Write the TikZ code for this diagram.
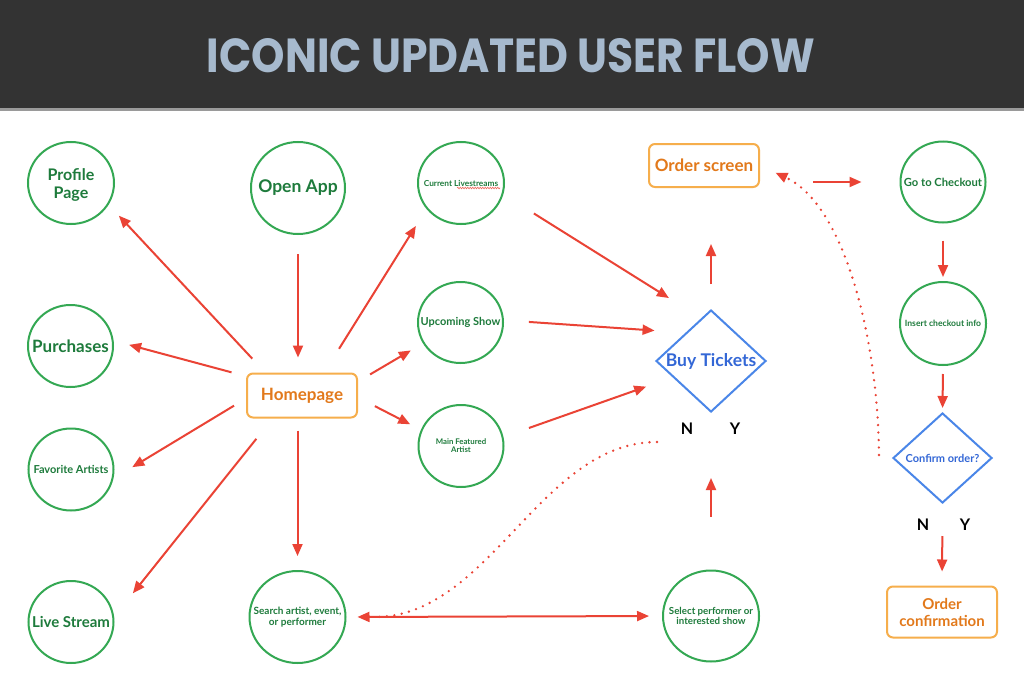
\documentclass[tikz,border=0pt]{standalone}
\usepackage{graphicx}
\usepackage{fontspec}
\setmainfont{Lato}
\newfontfamily\titlefont{Poppins}
\usetikzlibrary{shapes.geometric,arrows.meta,decorations.pathmorphing}
\definecolor{band}{HTML}{333333}
\definecolor{bandline}{HTML}{9A9A9A}
\definecolor{titlecol}{HTML}{A7BACE}
\definecolor{cgreen}{HTML}{34A853}
\definecolor{tgreen}{HTML}{1E7B3C}
\definecolor{corange}{HTML}{F6AE4C}
\definecolor{torange}{HTML}{E2791B}
\definecolor{cblue}{HTML}{4A86E8}
\definecolor{tblue}{HTML}{3367D6}
\definecolor{cred}{HTML}{EA4335}
\tikzset{
  fs/.style 2 args={font=\bfseries\fontsize{#1}{#2}\selectfont},
  circ/.style={ellipse, draw=cgreen, line width=2pt, inner sep=0pt},
  glab/.style={text=tgreen, align=center},
  obox/.style={rectangle, rounded corners=6pt, draw=corange, line width=2pt, text=torange, align=center, inner sep=0pt},
  dec/.style={diamond, draw=cblue, line width=2pt, inner sep=0pt},
  blab/.style={text=tblue, align=center},
  yn/.style={fs={16}{18}, text=black, inner sep=0pt},
  arr/.style={draw=cred, line width=2pt, -{Triangle[length=12pt,width=10pt]}},
  darr/.style={draw=cred, line width=2pt, {Triangle[length=12pt,width=10pt]}-{Triangle[length=12pt,width=10pt]}},
  dots/.style={draw=cred, line width=2.6pt, line cap=round, dash pattern=on 0pt off 7.5pt},
  squig/.style={draw=cred!80, line width=0.6pt, decorate, decoration={snake, amplitude=0.8pt, segment length=2.5pt}},
}
\begin{document}
\begin{tikzpicture}[x=1pt, y=-1pt]
\useasboundingbox (0,0) rectangle (1024,690);
\fill[white] (0,0) rectangle (1024,690);
% title band
\fill[band] (0,0) rectangle (1024,110);
\fill[bandline] (0,108) rectangle (1024,111);
\node[text=titlecol] (title) at (511,55.5) {\titlefont\bfseries\resizebox{608pt}{34pt}{ICONIC UPDATED USER FLOW}};

% nodes
\node[circ, minimum width=86pt, minimum height=82pt, label={[glab, fs={16}{18.5}, yshift=-2pt]center:Profile\\Page}] (profile) at (71,183) {};
\node[circ, minimum width=94pt, minimum height=92pt, label={[glab, fs={17.5}{20}]center:Open App}] (openapp) at (298,188) {};
\node[circ, minimum width=86pt, minimum height=82pt, label={[glab, fs={8.3}{10}]center:Current Livestreams}] (curlive) at (461,183) {};
\node[obox, minimum width=110pt, minimum height=43pt, fs={17}{19}] (order) at (704,165.5) {Order screen};
\node[circ, minimum width=85pt, minimum height=81pt, label={[glab, fs={11.2}{13}]center:Go to Checkout}] (checkout) at (943,182) {};
\node[circ, minimum width=85pt, minimum height=82pt, label={[glab, fs={17}{19}]center:Purchases}] (purch) at (70.5,346) {};
\node[obox, minimum width=110pt, minimum height=44pt, fs={17}{19}] (home) at (302,395.5) {Homepage};
\node[circ, minimum width=85pt, minimum height=81pt, label={[glab, fs={11}{13}]center:Upcoming Show}] (upcoming) at (460.5,322.5) {};
\node[dec, minimum width=110pt, minimum height=102pt, label={[blab, fs={17.5}{20}]center:Buy Tickets}] (buy) at (711,361) {};
\node[circ, minimum width=86pt, minimum height=83pt, label={[glab, fs={8.6}{10}]center:Insert checkout info}] (insert) at (943,323.5) {};
\node[circ, minimum width=85pt, minimum height=82pt, label={[glab, fs={7.8}{7.8}]center:Main Featured\\Artist}] (mainfeat) at (461,446) {};
\node[dec, minimum width=99pt, minimum height=90pt, label={[blab, fs={11}{13}]center:Confirm order?}] (confirm) at (942.5,458) {};
\node[circ, minimum width=85pt, minimum height=82pt, label={[glab, fs={11}{13}]center:Favorite Artists}] (fav) at (71,469.5) {};
\node[circ, minimum width=85pt, minimum height=82pt, label={[glab, fs={15}{17}]center:Live Stream}] (live) at (71,622) {};
\node[circ, minimum width=96pt, minimum height=92pt, label={[glab, fs={10}{10.5}]center:{Search artist, event,\\or performer}}] (search) at (297.5,617) {};
\node[circ, minimum width=96pt, minimum height=91pt, label={[glab, fs={9.7}{10}]center:{Select performer or\\interested show}}] (select) at (711,616) {};
\node[obox, minimum width=110pt, minimum height=51pt, fs={15}{17}] (orderconf) at (942,612) {Order\\confirmation};
\node[yn] (buyN) at (687,429) {N};
\node[yn] (buyY) at (735,429) {Y};
\node[yn] (confN) at (923,525) {N};
\node[yn] (confY) at (965,525) {Y};

% spell-check squiggle
\draw[squig] ([shift={(-4pt,-5pt)}]curlive.center) -- ([shift={(39pt,-5pt)}]curlive.center);

% arrows from homepage
\draw[arr, shorten <=19pt, shorten >=15pt] (home.148) -- (profile.-30);
\draw[arr, shorten <=15pt, shorten >=16pt] (home.161) -- (purch.7);
\draw[arr, shorten <=14pt, shorten >=22pt] (home.183) -- (fav.-12);
\draw[arr, shorten <=26pt, shorten >=30pt] (home.218) -- (live.7);
\draw[arr, shorten <=19pt, shorten >=15pt] (openapp.south) -- (openapp.south |- home.north);
\draw[arr, shorten <=12pt, shorten >=14pt] (home.south -| search.north) -- (search.north);
\draw[arr, shorten <=28pt, shorten >=20pt] (home.46) -- (curlive.217);
\draw[arr, shorten <=14pt, shorten >=14pt] (home.14) -- (upcoming.209);
\draw[arr, shorten <=19pt, shorten >=12pt] (home.-2) -- (mainfeat.158);
% to buy tickets
\draw[arr, shorten <=36pt, shorten >=38pt] (curlive.-15) -- (buy.103);
\draw[arr, shorten <=25pt, shorten >=31pt] (upcoming.3) -- (buy.132);
\draw[arr, shorten <=27pt, shorten >=28pt] (mainfeat.12) -- (buy.203);
\draw[arr, shorten <=25pt, shorten >=56pt] (buy.north) -- (buy.north |- order.south);
\draw[arr, shorten <=53pt, shorten >=65pt] (select.north) -- (buy.south);
\draw[darr, shorten <=11pt, shorten >=13pt] (search.east) -- (select.west);
% checkout column
\draw[arr, shorten <=53pt, shorten >=38pt] (order.east |- checkout.west) -- (checkout.west);
\draw[arr, shorten <=17pt, shorten >=4pt] (checkout.south) -- (insert.north);
\draw[arr, shorten <=8pt, shorten >=4pt] (insert.south) -- (confirm.north);
\draw[arr, shorten <=32pt, shorten >=14pt] (confirm.south) -- (orderconf.north);
% dotted "no" branches
\draw[dots, shorten >=28pt] ([shift={(-30pt,-13pt)}]buyN.center) .. controls (540,442) and (490,617) .. (search.east);
\draw[dots, -{Triangle[length=12pt,width=10pt]}, shorten >=17pt] ([shift={(-13pt,3pt)}]confirm.west) .. controls (878,340) and (845,205) .. (order.east);
\end{tikzpicture}
\end{document}
